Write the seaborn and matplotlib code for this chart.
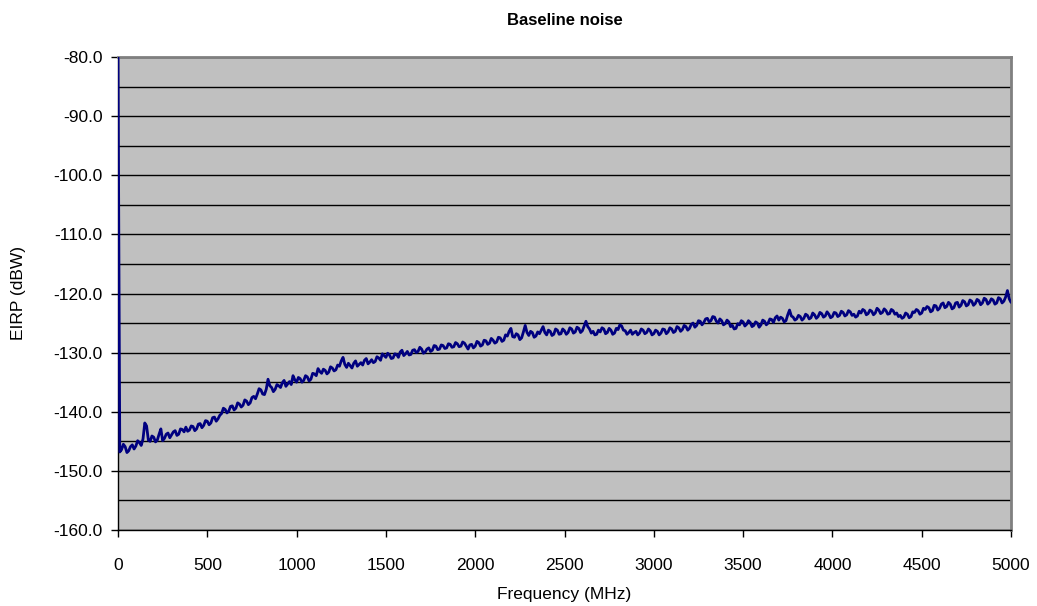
import matplotlib
matplotlib.use("Agg")
import matplotlib.pyplot as plt
from matplotlib.ticker import MultipleLocator, FormatStrFormatter
import seaborn as sns
import pandas as pd

# Frequency grid (MHz), 10 MHz spacing; one row per 100 MHz
freq_step = 10
eirp = [
    -80.0, -146.8, -146.4, -145.5, -145.9, -146.9, -146.6, -145.9, -145.6, -146.3,
    -145.8, -144.9, -145.2, -145.7, -144.6, -141.9, -142.4, -144.8, -145.0, -144.1,
    -144.3, -145.1, -144.8, -143.8, -142.9, -144.9, -144.5, -143.8, -143.6, -144.4,
    -143.9, -143.4, -143.2, -144.0, -143.8, -142.9, -143.0, -143.4, -142.6, -143.3,
    -143.1, -142.4, -142.5, -143.2, -142.9, -142.1, -142.0, -142.7, -142.3, -141.5,
    -141.6, -142.2, -141.9, -141.0, -140.9, -141.6, -141.2, -140.6, -140.3, -139.4,
    -139.6, -140.2, -139.9, -139.1, -139.0, -139.7, -139.4, -138.5, -138.7, -139.2,
    -138.9, -138.0, -138.2, -138.8, -138.5, -137.6, -137.4, -137.8, -137.0, -136.1,
    -136.3, -137.0, -137.1, -136.2, -134.5, -135.6, -135.9, -136.6, -136.2, -135.4,
    -135.6, -135.9, -135.1, -134.7, -135.7, -135.3, -134.9, -135.4, -133.9, -134.6,
    -135.0, -134.2, -134.4, -135.0, -134.7, -133.9, -134.1, -134.8, -134.5, -133.5,
    -133.6, -133.9, -132.7, -133.2, -133.5, -132.8, -133.0, -133.6, -133.3, -132.4,
    -132.6, -133.1, -132.9, -132.1, -132.3, -131.4, -130.8, -132.0, -132.5, -131.8,
    -132.2, -132.6, -131.8, -131.4, -132.3, -132.0, -131.7, -132.1, -131.3, -131.0,
    -131.9, -131.6, -131.2, -131.7, -131.5, -130.7, -130.9, -131.3, -130.2, -130.5,
    -130.8, -130.1, -130.4, -131.0, -130.9, -130.2, -130.3, -130.8, -129.9, -129.6,
    -130.5, -130.2, -129.8, -130.4, -130.3, -129.6, -129.5, -130.0, -129.8, -129.1,
    -129.4, -130.1, -129.9, -129.4, -129.2, -129.8, -129.6, -128.8, -128.9, -129.5,
    -129.4, -128.7, -128.8, -129.3, -129.2, -128.5, -128.6, -129.1, -129.0, -128.3,
    -128.5, -129.0, -128.9, -128.2, -128.4, -128.9, -129.4, -128.7, -128.6, -129.2,
    -128.9, -128.1, -128.3, -128.9, -128.7, -127.9, -128.0, -128.6, -128.4, -127.6,
    -127.9, -128.4, -128.2, -127.4, -127.5, -128.1, -127.9, -127.0, -127.2, -126.4,
    -125.9, -127.3, -127.4, -126.8, -127.0, -127.8, -127.5, -126.5, -125.4, -126.6,
    -127.1, -126.4, -126.6, -127.4, -127.2, -126.5, -126.8, -126.2, -125.6, -126.6,
    -127.0, -126.2, -126.4, -127.1, -126.9, -126.0, -126.2, -126.9, -126.8, -126.0,
    -126.3, -126.9, -126.6, -125.8, -126.0, -126.7, -126.5, -125.7, -125.9, -126.6,
    -126.3, -125.5, -124.7, -125.6, -126.0, -126.7, -126.4, -127.0, -126.9, -126.2,
    -126.5, -125.8, -126.0, -126.8, -126.6, -125.9, -126.2, -126.9, -126.7, -125.9,
    -126.1, -125.3, -125.5, -126.2, -126.3, -126.9, -126.6, -126.2, -126.9, -126.6,
    -126.4, -127.0, -126.7, -126.0, -126.2, -126.8, -126.6, -126.0, -126.3, -127.0,
    -126.8, -126.2, -126.4, -127.0, -126.7, -126.0, -126.1, -126.8, -126.5, -125.8,
    -126.0, -126.6, -126.4, -125.6, -125.8, -126.4, -126.1, -125.4, -125.6, -126.2,
    -125.9, -125.2, -125.0, -125.7, -125.4, -124.6, -124.7, -125.3, -124.9, -124.3,
    -124.2, -124.8, -124.6, -123.9, -124.0, -124.7, -125.0, -124.3, -124.6, -125.3,
    -125.1, -124.5, -124.8, -125.6, -125.4, -126.0, -125.9, -125.1, -125.3, -124.6,
    -124.8, -125.5, -125.2, -124.6, -124.9, -125.6, -125.4, -124.8, -125.0, -125.7,
    -125.3, -124.5, -124.7, -125.3, -125.0, -124.3, -124.4, -124.9, -124.1, -123.8,
    -124.5, -124.0, -124.2, -124.8, -124.6, -123.6, -122.8, -123.8, -124.0, -124.5,
    -124.3, -123.7, -123.9, -124.5, -124.2, -123.5, -123.7, -124.3, -124.1, -123.3,
    -123.6, -124.2, -123.9, -123.2, -123.4, -124.0, -123.8, -123.1, -123.5, -124.1,
    -123.9, -123.2, -123.3, -123.9, -123.7, -123.0, -123.2, -123.8, -123.6, -122.9,
    -123.1, -123.7, -123.5, -124.0, -123.8, -123.0, -123.3, -122.7, -122.9, -123.6,
    -123.4, -122.8, -123.0, -123.6, -123.3, -122.5, -122.8, -123.4, -123.2, -122.6,
    -122.9, -123.5, -123.4, -122.7, -122.9, -123.5, -123.3, -123.9, -123.7, -124.2,
    -124.0, -123.3, -123.5, -124.1, -123.9, -123.1, -123.2, -122.7, -122.9, -123.5,
    -123.3, -122.5, -122.7, -122.2, -122.4, -123.1, -122.9, -122.0, -122.1, -122.8,
    -122.5, -121.8, -121.6, -122.4, -122.2, -121.5, -121.8, -122.6, -122.4, -121.6,
    -121.5, -122.3, -122.0, -121.2, -121.4, -122.1, -121.9, -121.1, -121.3, -122.0,
    -121.7, -121.0, -121.2, -121.9, -121.6, -120.8, -121.0, -121.8, -121.5, -120.9,
    -121.1, -121.8, -121.6, -120.7, -120.9, -121.6, -121.3, -120.6, -119.5, -120.9,
    -121.5,
]
frequency = [i * freq_step for i in range(len(eirp))]

x_ticks = [0, 500, 1000, 1500, 2000, 2500, 3000, 3500, 4000, 4500, 5000]
y_ticks = [-160, -150, -140, -130, -120, -110, -100, -90, -80]

df = pd.DataFrame({"Frequency (MHz)": frequency, "EIRP (dBW)": eirp})

sns.set_style("white")
plt.rcParams["font.family"] = ["Liberation Sans", "DejaVu Sans"]
plt.rcParams["text.color"] = "black"
plt.rcParams["axes.labelcolor"] = "black"
plt.rcParams["xtick.color"] = "black"
plt.rcParams["ytick.color"] = "black"

fig = plt.figure(figsize=(10.37, 6.06), dpi=100)
ax = fig.add_axes([118 / 1037, 1 - 530 / 606, (1011 - 118) / 1037, (530 - 57) / 606])
ax.set_facecolor("#C0C0C0")

sns.lineplot(data=df, x="Frequency (MHz)", y="EIRP (dBW)", ax=ax,
             color="#000080", linewidth=2.0, zorder=3)

ax.set_xlim(0, 5000)
ax.set_ylim(-160, -80)
ax.set_xticks(x_ticks)
ax.set_yticks(y_ticks)
ax.yaxis.set_minor_locator(MultipleLocator(5))
ax.yaxis.set_major_formatter(FormatStrFormatter("%.1f"))
ax.grid(False)
ax.yaxis.grid(True, which="both", color="black", linewidth=1.0, zorder=1)
ax.set_axisbelow(True)

ax.tick_params(axis="both", which="major", direction="out", length=5, width=1,
               color="black", labelcolor="black", labelsize=12.5, bottom=True, left=True)
ax.tick_params(axis="x", which="major", pad=15)
ax.tick_params(axis="y", which="major", pad=6)
ax.tick_params(axis="y", which="minor", length=0)

for side in ["top", "right"]:
    ax.spines[side].set_color("#808080")
    ax.spines[side].set_linewidth(2)
for side in ["left", "bottom"]:
    ax.spines[side].set_color("black")
    ax.spines[side].set_linewidth(1)

ax.set_xlabel("Frequency (MHz)", fontsize=12.5, labelpad=10, color="black")
ax.set_ylabel("EIRP (dBW)", fontsize=12.5, labelpad=20, color="black")
ax.set_title("Baseline noise", fontsize=12, fontweight="bold", pad=23, color="black")

fig.savefig("out.png", dpi=100)
